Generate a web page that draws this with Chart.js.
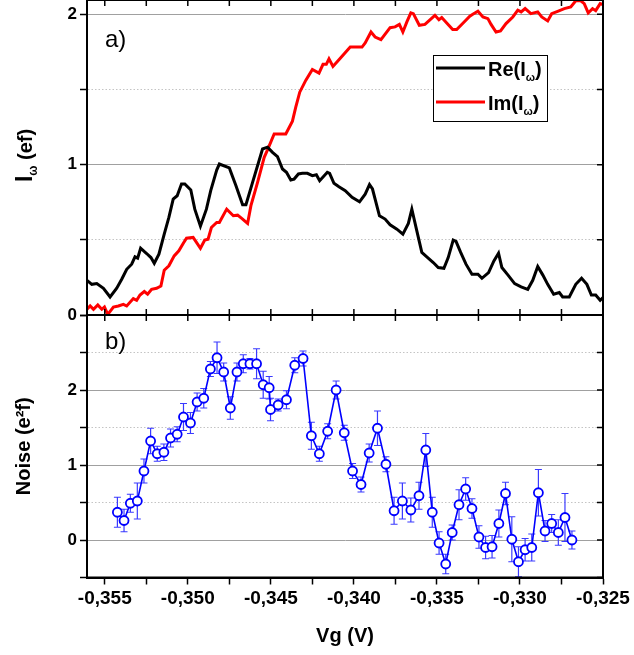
<!DOCTYPE html>
<html><head><meta charset="utf-8">
<script src="https://cdn.jsdelivr.net/npm/chart.js@4.4.0/dist/chart.umd.min.js"></script>
<style>
html,body{margin:0;padding:0;background:#fff;}
#wrap{position:relative;width:634px;height:655px;overflow:hidden;background:#fff;}
canvas{position:absolute;left:0;}
#cA{top:0;} #cB{top:300px;}
</style></head><body>
<div id="wrap"><canvas id="cA" width="634" height="335"></canvas><canvas id="cB" width="634" height="355"></canvas></div>
<script>
// ---- data ----
const reX = [-0.35607,-0.35578,-0.35548,-0.35508,-0.35468,-0.35428,-0.35398,-0.35368,-0.35338,-0.35318,
-0.35302,-0.35284,-0.35248,-0.35222,-0.35202,-0.35174,-0.35142,-0.35114,-0.35088,-0.35064,
-0.35038,-0.35018,-0.34982,-0.34958,-0.34924,-0.34888,-0.34862,-0.34826,-0.34810,-0.34750,
-0.34710,-0.34670,-0.34650,-0.34610,-0.34550,-0.34520,-0.34490,-0.34460,-0.34430,-0.34406,
-0.34380,-0.34360,-0.34334,-0.34310,-0.34280,-0.34250,-0.34226,-0.34206,-0.34160,-0.34146,
-0.34120,-0.34090,-0.34052,-0.34011,-0.33966,-0.33932,-0.33906,-0.33888,-0.33846,-0.33812,
-0.33782,-0.33741,-0.33705,-0.33672,-0.33651,-0.33621,-0.33591,-0.33561,-0.33522,-0.33492,
-0.33458,-0.33432,-0.33402,-0.33385,-0.33357,-0.33325,-0.33289,-0.33253,-0.33229,-0.33189,
-0.33157,-0.33129,-0.33109,-0.33073,-0.33032,-0.32993,-0.32953,-0.32923,-0.32893,-0.32863,
-0.32833,-0.32797,-0.32763,-0.32743,-0.32703,-0.32664,-0.32629,-0.32597,-0.32570,-0.32544,
-0.32517,-0.32490];
const reY = [0.23,0.204,0.209,0.178,0.12,0.178,0.238,0.304,0.338,0.387,
0.378,0.444,0.409,0.382,0.344,0.404,0.538,0.649,0.771,0.793,
0.871,0.871,0.831,0.704,0.591,0.704,0.827,0.964,1.004,0.978,
0.86,0.733,0.733,0.882,1.104,1.116,1.082,1.053,0.971,0.949,
0.898,0.904,0.938,0.942,0.942,0.927,0.933,0.893,0.949,0.942,
0.876,0.853,0.827,0.782,0.753,0.804,0.867,0.838,0.66,0.638,
0.6,0.571,0.538,0.609,0.704,0.56,0.416,0.387,0.349,0.316,
0.311,0.382,0.498,0.489,0.416,0.338,0.271,0.271,0.244,0.282,
0.36,0.411,0.316,0.267,0.209,0.187,0.171,0.231,0.322,0.267,
0.204,0.138,0.149,0.12,0.12,0.204,0.244,0.204,0.133,0.133,
0.098,0.127];
const imX = [-0.35607,-0.35588,-0.35568,-0.35542,-0.35518,-0.35502,-0.35482,-0.35448,-0.35418,-0.35388,
-0.35368,-0.35328,-0.35308,-0.35288,-0.35262,-0.35242,-0.35218,-0.35188,-0.35162,-0.35142,
-0.35114,-0.35082,-0.35054,-0.35028,-0.35008,-0.34968,-0.34924,-0.34898,-0.34878,-0.34858,
-0.34826,-0.34810,-0.34766,-0.34726,-0.34700,-0.34670,-0.34640,-0.34620,-0.34580,-0.34540,
-0.34520,-0.34480,-0.34450,-0.34410,-0.34370,-0.34350,-0.34326,-0.34290,-0.34250,-0.34210,
-0.34186,-0.34166,-0.34150,-0.34126,-0.34090,-0.34058,-0.34022,-0.33951,-0.33932,-0.33897,
-0.33872,-0.33837,-0.33782,-0.33752,-0.33726,-0.33705,-0.33681,-0.33657,-0.33642,-0.33606,
-0.33572,-0.33512,-0.33488,-0.33471,-0.33441,-0.33405,-0.33381,-0.33342,-0.33302,-0.33284,
-0.33253,-0.33223,-0.33193,-0.33174,-0.33144,-0.33117,-0.33084,-0.33043,-0.33013,-0.32993,
-0.32969,-0.32934,-0.32893,-0.32869,-0.32833,-0.32809,-0.32773,-0.32733,-0.32694,-0.32664,
-0.32634,-0.32613,-0.32589,-0.32563,-0.32544,-0.32517,-0.32490];
const imY = [0.038,0.06,0.038,0.067,0.038,0.053,0.004,0.053,0.06,0.071,
0.06,0.109,0.098,0.133,0.156,0.138,0.171,0.178,0.193,0.298,
0.327,0.393,0.427,0.476,0.511,0.516,0.444,0.498,0.504,0.582,
0.616,0.616,0.704,0.66,0.664,0.638,0.609,0.727,0.882,1.049,
1.098,1.204,1.204,1.204,1.289,1.382,1.482,1.56,1.633,1.609,
1.667,1.667,1.704,1.653,1.698,1.738,1.782,1.782,1.809,1.882,
1.849,1.831,1.911,1.916,1.933,1.882,1.949,2.009,2.004,1.927,
1.933,1.993,1.964,1.978,1.942,1.898,1.898,1.942,1.987,2.0,
2.02,1.982,1.971,1.933,1.882,1.889,1.938,1.982,2.027,2.016,
2.038,2.004,2.016,1.982,1.956,2.004,2.02,2.038,2.049,2.09,
2.09,2.071,2.009,2.038,2.024,2.071,2.06];
const noiseX = [-0.35424,-0.35384,-0.35346,-0.35304,-0.35264,-0.35224,-0.35184,-0.35144,-0.35104,-0.35064,
-0.35026,-0.34984,-0.34944,-0.34904,-0.34864,-0.34824,-0.34784,-0.34744,-0.34704,-0.34666,
-0.34626,-0.34586,-0.34546,-0.34510,-0.34502,-0.34456,-0.34406,-0.34356,-0.34306,-0.34256,
-0.34208,-0.34158,-0.34107,-0.34058,-0.34008,-0.33957,-0.33908,-0.33858,-0.33807,-0.33758,
-0.33708,-0.33657,-0.33608,-0.33567,-0.33528,-0.33487,-0.33447,-0.33408,-0.33367,-0.33327,
-0.33289,-0.33247,-0.33207,-0.33168,-0.33127,-0.33087,-0.33049,-0.33009,-0.32969,-0.32929,
-0.32889,-0.32849,-0.32809,-0.32769,-0.32729,-0.32687];
const noiseY = [0.37,0.26,0.49,0.52,0.92,1.32,1.15,1.17,1.36,1.41,
1.64,1.56,1.84,1.89,2.28,2.43,2.24,1.76,2.24,2.35,
2.35,2.35,2.07,2.03,1.74,1.80,1.87,2.33,2.42,1.39,
1.15,1.45,2.00,1.43,0.92,0.74,1.16,1.49,1.01,0.39,
0.52,0.40,0.59,1.20,0.37,-0.04,-0.32,0.10,0.47,0.68,
0.42,0.04,-0.10,-0.09,0.22,0.62,0.01,-0.29,-0.13,-0.10,
0.63,0.12,0.22,0.10,0.30,0.00];
const noiseErr = [0.20,0.15,0.12,0.24,0.16,0.17,0.10,0.11,0.12,0.10,
0.18,0.14,0.12,0.13,0.10,0.21,0.12,0.15,0.12,0.12,
0.07,0.20,0.18,0.15,0.15,0.08,0.12,0.10,0.10,0.18,
0.10,0.10,0.12,0.10,0.10,0.10,0.12,0.23,0.10,0.18,
0.24,0.16,0.18,0.22,0.20,0.15,0.13,0.10,0.20,0.15,
0.13,0.15,0.15,0.15,0.18,0.15,0.30,0.20,0.15,0.18,
0.31,0.14,0.12,0.17,0.32,0.12];
const xTickValues = [-0.355,-0.3525,-0.35,-0.3475,-0.345,-0.3425,-0.34,-0.3375,-0.335,-0.3325,-0.33,-0.3275,-0.325];
const topYTicks = ['0','1','2'];
const botYTicks = ['0','1','2'];
const seriesLabels = ['Re(Iω)','Im(Iω)'];

// ---- styling ----
const FONT = '"Liberation Sans", Arial, sans-serif';
Chart.defaults.font.family = FONT;
Chart.defaults.color = '#000';
const X_MIN = -0.35607, X_MAX = -0.325;
const isHalf = v => Math.abs(v - Math.round(v)) > 1e-6;
const gridColor = c => (c.tick && isHalf(c.tick.value)) ? '#c4c4c4' : '#a0a0a0';
const gridDash = c => (c.tick && isHalf(c.tick.value)) ? [1.5, 2] : [];

const framePlugin = {
  id: 'frame',
  afterDraw(chart, args, opts) {
    const {ctx, chartArea: a, scales: {x, y}} = chart;
    ctx.save();
    ctx.strokeStyle = '#000';
    ctx.lineWidth = 1.5;
    ctx.beginPath();
    xTickValues.forEach(v => {
      const p = x.getPixelForValue(v);
      if (opts.top) { ctx.moveTo(p, a.top); ctx.lineTo(p, a.top + 6); }
      if (opts.bottomIn) { ctx.moveTo(p, a.bottom); ctx.lineTo(p, a.bottom - 6); }
    });
    y.ticks.forEach(t => {
      const p = y.getPixelForValue(t.value);
      ctx.moveTo(a.right, p); ctx.lineTo(a.right - 6, p);
    });
    ctx.stroke();
    ctx.lineWidth = 2;
    ctx.strokeRect(a.left, a.top, a.right - a.left, a.bottom - a.top);
    if (opts.label) {
      ctx.fillStyle = '#000';
      ctx.font = '24px ' + FONT;
      ctx.textBaseline = 'middle';
      ctx.textAlign = 'left';
      ctx.fillText(opts.label, a.left + 18, a.top + opts.labelDy);
    }
    ctx.restore();
  }
};

function drawSubText(ctx, text, x, y, big, small) {
  const parts = text.split('ω');
  let cx = x;
  parts.forEach((p, i) => {
    ctx.font = big; ctx.fillText(p, cx, y); cx += ctx.measureText(p).width;
    if (i < parts.length - 1) {
      ctx.font = small; ctx.fillText('ω', cx, y + 5); cx += ctx.measureText('ω').width;
    }
  });
}

const legendPlugin = {
  id: 'customLegend',
  afterDraw(chart) {
    const {ctx} = chart;
    const bx = 433, by = 55, bw = 114, bh = 66;
    ctx.save();
    ctx.fillStyle = '#fff';
    ctx.fillRect(bx, by, bw, bh);
    ctx.strokeStyle = '#000'; ctx.lineWidth = 1;
    ctx.strokeRect(bx + 0.5, by + 0.5, bw, bh);
    chart.data.datasets.forEach((ds, i) => {
      const cy = by + 13 + i * 34;
      ctx.strokeStyle = ds.borderColor; ctx.lineWidth = 3;
      ctx.beginPath(); ctx.moveTo(bx + 3, cy); ctx.lineTo(bx + 52, cy); ctx.stroke();
      ctx.fillStyle = '#000'; ctx.textBaseline = 'alphabetic'; ctx.textAlign = 'left';
      drawSubText(ctx, ds.label, bx + 55, cy + 8, 'bold 20px ' + FONT, 'bold 11px ' + FONT);
    });
    ctx.restore();
  }
};

const yTitleA = {
  id: 'yTitleA',
  afterDraw(chart) {
    const {ctx, chartArea: a} = chart;
    const cy = (a.top + a.bottom) / 2 - 2;
    ctx.save();
    ctx.translate(24, cy); ctx.rotate(-Math.PI / 2);
    ctx.fillStyle = '#000'; ctx.textBaseline = 'alphabetic'; ctx.textAlign = 'left';
    const f1 = 'bold 23px ' + FONT, f2 = 'bold 12px ' + FONT, f3 = 'bold 20px ' + FONT;
    ctx.font = f1; const w1 = ctx.measureText('I').width;
    ctx.font = f2; const w2 = ctx.measureText('ω').width;
    ctx.font = f3; const w3 = ctx.measureText(' (ef)').width;
    let u = -(w1 + w2 + w3) / 2;
    ctx.font = f1; ctx.fillText('I', u, 8); u += w1;
    ctx.font = f2; ctx.fillText('ω', u, 13); u += w2;
    ctx.font = f3; ctx.fillText(' (ef)', u, 8);
    ctx.restore();
  }
};

const errorBars = {
  id: 'errorBars',
  beforeDatasetsDraw(chart) {
    const {ctx, chartArea: a, scales: {x, y}} = chart;
    ctx.save();
    ctx.beginPath(); ctx.rect(a.left, a.top, a.right - a.left, a.bottom - a.top); ctx.clip();
    ctx.strokeStyle = '#3a3aff'; ctx.lineWidth = 1.2;
    noiseX.forEach((vx, i) => {
      const px = x.getPixelForValue(vx);
      const t = y.getPixelForValue(noiseY[i] + noiseErr[i]);
      const b = y.getPixelForValue(noiseY[i] - noiseErr[i]);
      ctx.beginPath();
      ctx.moveTo(px, t); ctx.lineTo(px, b);
      ctx.moveTo(px - 3.5, t); ctx.lineTo(px + 3.5, t);
      ctx.moveTo(px - 3.5, b); ctx.lineTo(px + 3.5, b);
      ctx.stroke();
    });
    ctx.restore();
  }
};

const yCommon = (min, max, labels) => ({
  type: 'linear', min, max, position: 'left',
  afterFit(s) { s.width = 87; s.paddingTop = 0; s.paddingBottom = 0; },
  ticks: {
    stepSize: 0.5, includeBounds: false, padding: 3,
    font: {size: 17, weight: 'bold'},
    callback: v => (Number.isInteger(v) && labels.includes(String(v))) ? String(v) : ''
  },
  grid: {color: gridColor, lineWidth: 1, drawTicks: true, tickLength: 7, tickColor: '#000', tickWidth: 1.5},
  border: {display: true, color: '#000', width: 2, dash: gridDash}
});

new Chart(document.getElementById('cA'), {
  type: 'scatter',
  data: {
    datasets: [
      {label: seriesLabels[0], data: reX.map((x, i) => ({x, y: reY[i]})), showLine: true,
       borderColor: '#000000', borderWidth: 3, pointRadius: 0, tension: 0},
      {label: seriesLabels[1], data: imX.map((x, i) => ({x, y: imY[i]})), showLine: true,
       borderColor: '#ff0000', borderWidth: 3, pointRadius: 0, tension: 0}
    ]
  },
  options: {
    responsive: false, animation: false, devicePixelRatio: 1,
    layout: {padding: {left: 0, right: 31, top: 0, bottom: 20}},
    plugins: {legend: {display: false}, tooltip: {enabled: false},
      frame: {top: true, bottomIn: true, label: 'a)', labelDy: 40}},
    scales: {
      x: {type: 'linear', min: X_MIN, max: X_MAX, display: false},
      y: yCommon(0, 2.095, topYTicks)
    }
  },
  plugins: [framePlugin, legendPlugin, yTitleA]
});

const yB = yCommon(-0.5, 3, botYTicks);
yB.title = {display: true, text: 'Noise (e²f)', font: {size: 20, weight: 'bold'}, padding: {top: 12, bottom: 0}};

new Chart(document.getElementById('cB'), {
  type: 'scatter',
  data: {
    datasets: [
      {label: 'Noise', data: noiseX.map((x, i) => ({x, y: noiseY[i]})), showLine: true,
       borderColor: '#0000ff', borderWidth: 1.6, tension: 0,
       pointRadius: 4.5, pointBorderWidth: 1.8, pointBackgroundColor: '#ffffff', pointBorderColor: '#0000ff'}
    ]
  },
  options: {
    responsive: false, animation: false, devicePixelRatio: 1,
    layout: {padding: {left: 0, right: 31, top: 15, bottom: 3}},
    plugins: {legend: {display: false}, tooltip: {enabled: false},
      frame: {top: true, bottomIn: false, label: 'b)', labelDy: 27}},
    scales: {
      x: {
        type: 'linear', min: X_MIN, max: X_MAX, position: 'bottom',
        afterFit(s) { s.height = 74.5; },
        ticks: {
          stepSize: 0.0025, includeBounds: false, autoSkip: false, maxRotation: 0, minRotation: 0, padding: 3,
          font: {size: 19, weight: 'bold'},
          callback: v => {
            const r = v / 0.005;
            return Math.abs(r - Math.round(r)) < 1e-6 ? v.toFixed(3).replace('.', ',') : '';
          }
        },
        grid: {drawOnChartArea: false, drawTicks: true, tickLength: 7, tickColor: '#000', tickWidth: 1.5},
        border: {display: true, color: '#000', width: 2},
        title: {display: true, text: 'Vg (V)', font: {size: 20, weight: 'bold'}, padding: {top: 0, bottom: 4}}
      },
      y: yB
    }
  },
  plugins: [errorBars, framePlugin]
});
</script>
</body></html>
